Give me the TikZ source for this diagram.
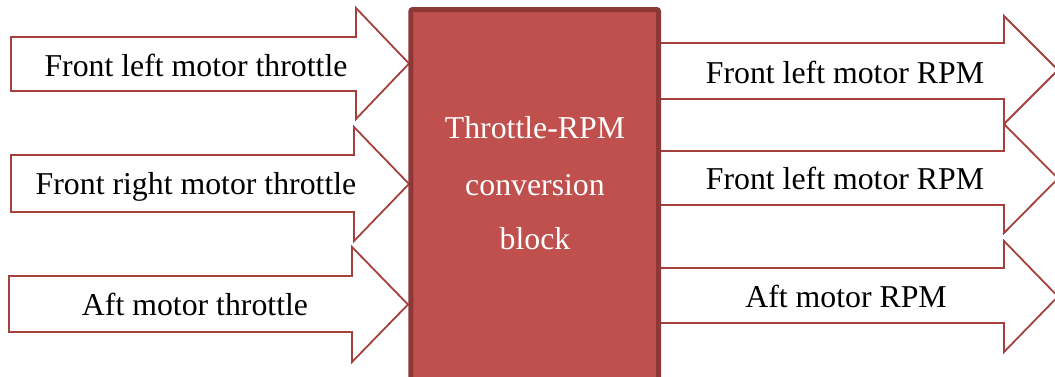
\documentclass[tikz,border=0pt]{standalone}
\usepackage{fontspec}
\setmainfont{Liberation Serif}
\definecolor{blockfill}{HTML}{C0504D}
\definecolor{blockline}{HTML}{8C3836}
\definecolor{arrline}{HTML}{A5403D}
\begin{document}
\begin{tikzpicture}[x=1pt,y=-1pt,
  blockarrow/.style={draw=arrline,fill=white,line width=1.8pt,line join=miter},
  lbl/.style={anchor=base,inner sep=0pt,font=\fontsize{31.8}{38}\selectfont},
  blk/.style={draw=blockline,fill=blockfill,line width=5pt,rounded corners=2pt}]
\useasboundingbox (0,0) rectangle (1055,376);
\clip (0,0) rectangle (1055,376);
% left input arrows
\draw[blockarrow] (11,37) -- (356,37) -- (356,8) -- (409,63.5) -- (356,119) -- (356,91) -- (11,91) -- cycle;
\draw[blockarrow] (11,155) -- (354,155) -- (354,127) -- (409,184) -- (354,241) -- (354,212) -- (11,212) -- cycle;
\draw[blockarrow] (9,276) -- (352,276) -- (352,247) -- (408,304.5) -- (352,362) -- (352,332) -- (9,332) -- cycle;
% right output arrows
\draw[blockarrow] (660,43) -- (1004,43) -- (1004,16) -- (1058,70) -- (1004,124) -- (1004,99) -- (660,99) -- cycle;
\draw[blockarrow] (660,151) -- (1004,151) -- (1004,124) -- (1058,178.5) -- (1004,233) -- (1004,205) -- (660,205) -- cycle;
\draw[blockarrow] (660,268) -- (1004,268) -- (1004,241) -- (1058,296.5) -- (1004,352) -- (1004,323) -- (660,323) -- cycle;
% central block
\draw[blk] (410.8,390) -- (410.8,9.5) -- (658.5,9.5) -- (658.5,390);
\node[lbl,text=white] (b1) at (535,138) {Throttle-RPM};
\node[lbl,text=white] (b2) at (535,195) {conversion};
\node[lbl,text=white] (b3) at (535,249) {block};
% labels
\node[lbl] (in1) at (196,76) {Front left motor throttle};
\node[lbl] (in2) at (196,194) {Front right motor throttle};
\node[lbl] (in3) at (195,315) {Aft motor throttle};
\node[lbl] (out1) at (845,83) {Front left motor RPM};
\node[lbl] (out2) at (845,189) {Front left motor RPM};
\node[lbl] (out3) at (846,307) {Aft motor RPM};
\end{tikzpicture}
\end{document}
